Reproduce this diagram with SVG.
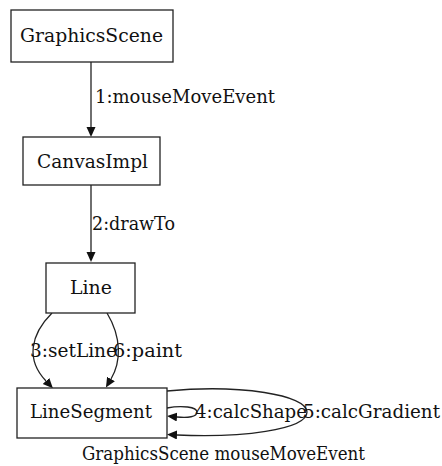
<svg xmlns="http://www.w3.org/2000/svg" width="442" height="466" viewBox="0 0 442 466">
  <style>
    .node rect { fill: #ffffff; stroke: #222222; stroke-width: 1.3; }
    .lbl { font-family: "DejaVu Serif", serif; font-size: 19px; fill: #111111; }
    .edge { fill: none; stroke: #222222; stroke-width: 1.3; }
  </style>
  <defs>
    <marker id="arrow" markerUnits="userSpaceOnUse" markerWidth="12" markerHeight="10" refX="0" refY="4.5" orient="auto">
      <path d="M0,0 L10,4.5 L0,9 Z" fill="#111111"/>
    </marker>
  </defs>
  <rect width="442" height="466" fill="#ffffff"/>

  <g id="edges">
    <path class="edge" d="M91,62 L91,127" marker-end="url(#arrow)"/>
    <text class="lbl" x="95" y="103" textLength="180" lengthAdjust="spacingAndGlyphs">1:mouseMoveEvent</text>

    <path class="edge" d="M91,185 L91,252" marker-end="url(#arrow)"/>
    <text class="lbl" x="92" y="230" textLength="83" lengthAdjust="spacingAndGlyphs">2:drawTo</text>

    <path class="edge" d="M52,313 C30,335 26,360 46,381" marker-end="url(#arrow)"/>
    <text class="lbl" x="30" y="357" textLength="87" lengthAdjust="spacingAndGlyphs">3:setLine</text>

    <path class="edge" d="M107,313 C122,338 121,362 111,379" marker-end="url(#arrow)"/>
    <text class="lbl" x="113" y="357" textLength="69" lengthAdjust="spacingAndGlyphs">6:paint</text>

    <path class="edge" d="M167,408 C182,405 197,407 197,412 C197,417 188,418 177,417" marker-end="url(#arrow)"/>
    <text class="lbl" x="195" y="418" textLength="112" lengthAdjust="spacingAndGlyphs">4:calcShape</text>

    <path class="edge" d="M167,391 C240,384 307,395 307,412 C307,430 240,438 177,435" marker-end="url(#arrow)"/>
    <text class="lbl" x="303" y="418" textLength="137" lengthAdjust="spacingAndGlyphs">5:calcGradient</text>
  </g>

  <g id="GraphicsScene" class="node">
    <rect x="11" y="10" width="162" height="52"/>
    <text class="lbl" x="20" y="42" textLength="143" lengthAdjust="spacingAndGlyphs">GraphicsScene</text>
  </g>

  <g id="CanvasImpl" class="node">
    <rect x="23" y="137" width="137" height="48"/>
    <text class="lbl" x="37" y="168" textLength="111" lengthAdjust="spacingAndGlyphs">CanvasImpl</text>
  </g>

  <g id="Line" class="node">
    <rect x="46" y="263" width="89" height="50"/>
    <text class="lbl" x="70" y="294" textLength="42" lengthAdjust="spacingAndGlyphs">Line</text>
  </g>

  <g id="LineSegment" class="node">
    <rect x="17" y="388" width="150" height="50"/>
    <text class="lbl" x="30" y="418" textLength="122" lengthAdjust="spacingAndGlyphs">LineSegment</text>
  </g>

  <text class="lbl" x="82" y="460" textLength="283" lengthAdjust="spacingAndGlyphs">GraphicsScene mouseMoveEvent</text>
</svg>
